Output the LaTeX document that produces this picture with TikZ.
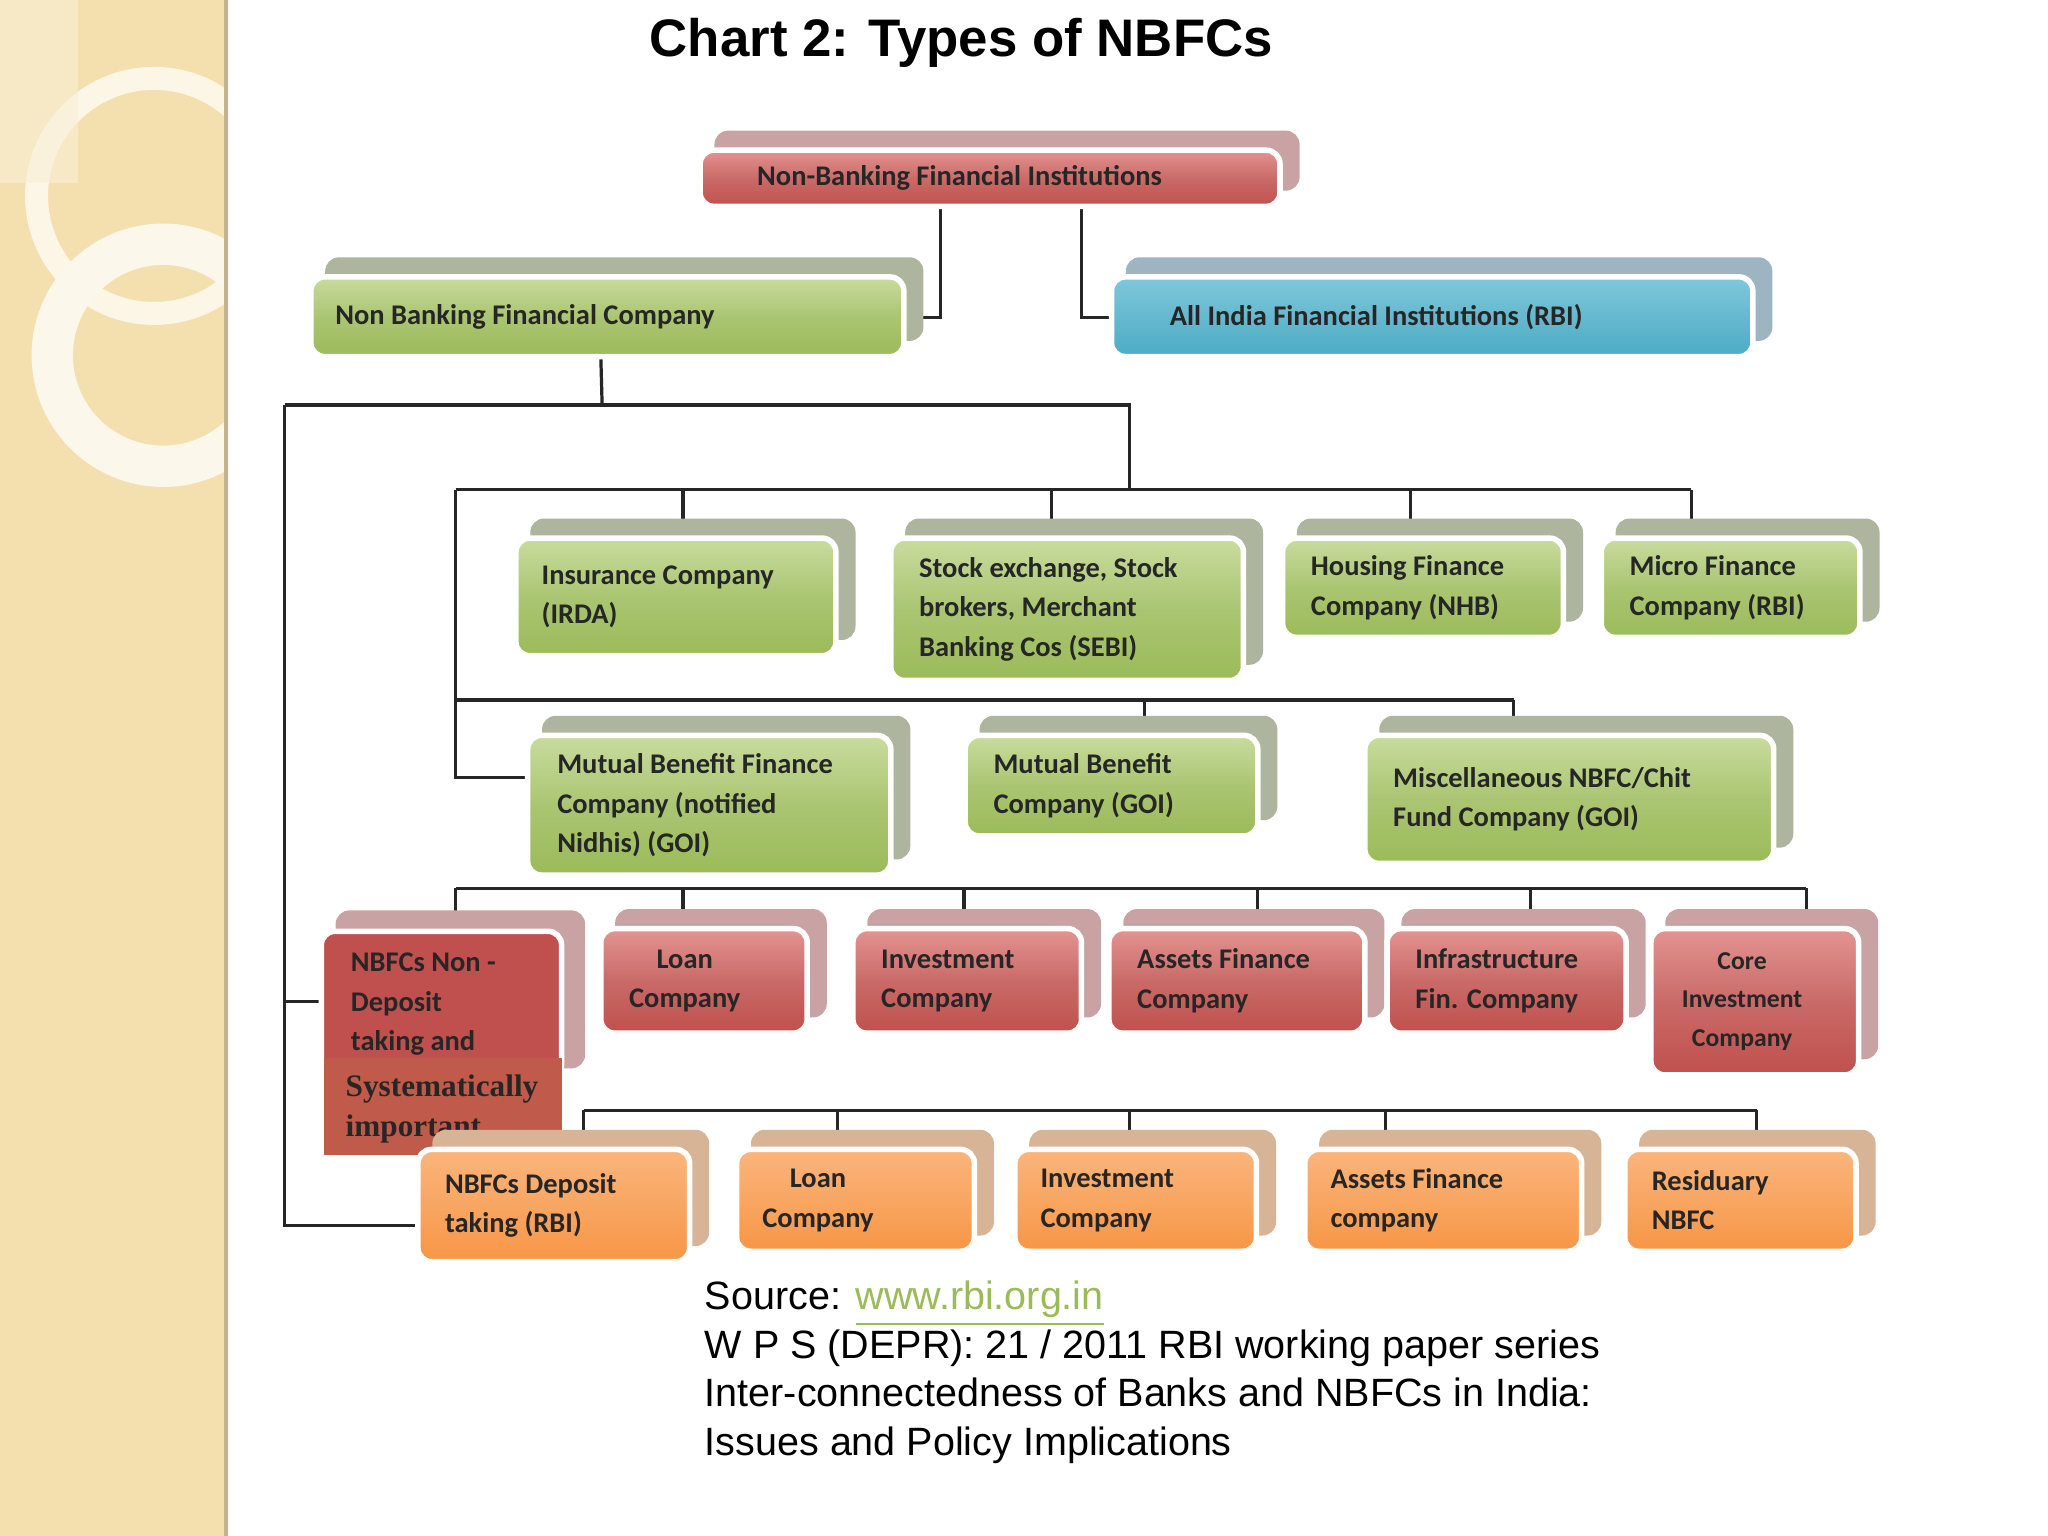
\documentclass[tikz,border=0pt]{standalone}
\usepackage{fontspec}
\setmainfont{Carlito}
\newfontfamily\arial{Liberation Sans}
\newfontfamily\serifx{Liberation Serif}
\usetikzlibrary{fit}
\definecolor{gC}{HTML}{9BBB59}\definecolor{gL}{HTML}{C9DC9E}\definecolor{gS}{HTML}{AEB59E}
\definecolor{rC}{HTML}{C0504D}\definecolor{rL}{HTML}{E39492}\definecolor{rS}{HTML}{C9A3A3}
\definecolor{oC}{HTML}{F79646}\definecolor{oL}{HTML}{FAB57C}\definecolor{oS}{HTML}{D8B496}
\definecolor{bC}{HTML}{4BACC6}\definecolor{bL}{HTML}{7FC8DC}\definecolor{bS}{HTML}{9DB5C0}
\definecolor{strip}{HTML}{F4E0AE}
\tikzset{txt/.style={font=\fontsize{6.2}{8.6}\selectfont\bfseries, text=black!85, inner sep=0pt},
 ln/.style={line width=0.7pt, black!85}}
\newcommand\mybox[9]{%
 \fill[#6S, rounded corners=3pt] (#2+11,#3-15) rectangle (#4+15,#5-12);
 \shade[top color=#6L, bottom color=#6C, middle color=#6C!85!white, draw=white, line width=1.2pt, rounded corners=3pt] (#2,#3) rectangle (#4,#5);
 \node[fit={(#2,#3)(#4,#5)}, inner sep=0pt] (#1) {};
 \node[txt, anchor=west, align=#8] (#1t) at (#7,{(#3+#5)/2}) {#9};}
\begin{document}
\begin{tikzpicture}[x=0.01cm,y=-0.01cm]
\useasboundingbox (0,0) rectangle (1568,1176);
\fill[white] (0,0) rectangle (1568,1176);
\begin{scope}
\clip (0,0) rectangle (173,1176);
\fill[strip] (0,0) rectangle (173,1176);
\draw[white!70!strip, line width=5pt] (118,150) circle (90);
\draw[white!75!strip, line width=9pt] (125,272) circle (85);
\fill[white!50!strip, opacity=.6] (0,0) rectangle (60,140);
\end{scope}
\draw[strip!80!black, line width=1pt] (173,0) -- (173,1176);
\node[font=\arial\bfseries\fontsize{11.5}{14}\selectfont] (title) at (736,33) {Chart 2: Types of NBFCs};
% connectors
\draw[ln] (720,158) -- (720,243) -- (692,243);
\draw[ln] (828,158) -- (828,243) -- (851,243);
\draw[ln] (460,273) -- (461,310);
\draw[ln] (218,310) -- (865,310) -- (865,375);
\draw[ln] (349,375) -- (1295,375);
\foreach \x in {523,805,1080,1295} \draw[ln] (\x,375) -- (\x,412);
\draw[ln] (349,375) -- (349,595) -- (405,595);
\draw[ln] (349,536) -- (1159,536);
\foreach \x in {876,1159} \draw[ln] (\x,536) -- (\x,563);
\draw[ln] (349,680) -- (1383,680);
\foreach \x in {349,523,738,963,1172,1383} \draw[ln] (\x,680) -- (\x,712);
\draw[ln] (218,310) -- (218,938) -- (320,938);
\draw[ln] (218,767) -- (246,767);
\draw[ln] (447,850) -- (1345,850);
\foreach \x in {447,641,865,1061,1345} \draw[ln] (\x,850) -- (\x,880);
% boxes
\mybox{nbfi}{536}{115}{980}{158}{r}{579}{left}{Non-Banking Financial Institutions}
\mybox{nbfc}{238}{212}{692}{273}{g}{256}{left}{Non Banking Financial Company}
\mybox{aifi}{851}{212}{1342}{273}{b}{895}{left}{All India Financial Institutions (RBI)}
\mybox{ins}{395}{412}{640}{502}{g}{414}{left}{Insurance Company\\(IRDA)}
\mybox{stk}{682}{412}{952}{521}{g}{703}{left}{Stock exchange, Stock\\brokers, Merchant\\Banking Cos (SEBI)}
\mybox{hfc}{982}{412}{1197}{488}{g}{1003}{left}{Housing Finance\\Company (NHB)}
\mybox{mfc}{1226}{412}{1424}{488}{g}{1247}{left}{Micro Finance\\Company (RBI)}
\mybox{mbf}{404}{563}{682}{670}{g}{426}{left}{Mutual Benefit Finance\\Company (notified\\Nidhis) (GOI)}
\mybox{mbc}{739}{563}{963}{640}{g}{760}{left}{Mutual Benefit\\Company (GOI)}
\mybox{misc}{1045}{563}{1358}{661}{g}{1066}{left}{Miscellaneous NBFC/Chit\\Fund Company (GOI)}
% NBFCs non-deposit
\fill[rS, rounded corners=3pt] (257,697) rectangle (448,818);
\shade[top color=rC, bottom color=rC, draw=white, line width=1.2pt, rounded corners=3pt] (246,713) rectangle (430,825);
\node[fit={(246,713)(430,825)}, inner sep=0pt] (nd) {};
\node[txt, anchor=north west, align=left] (ndt) at (268,729) {NBFCs Non -\\Deposit\\taking and};
\fill[rC!80!brown] (248,810) rectangle (430,884);
\node[txt, font=\serifx\bfseries\fontsize{6.8}{8.8}\selectfont, anchor=north west, align=left] (sys) at (264,822) {Systematically\\important};
\mybox{rl}{460}{711}{618}{791}{r}{481}{center}{Loan\\Company}
\mybox{ri}{653}{711}{828}{791}{r}{674}{left}{Investment\\Company}
\mybox{ra}{849}{711}{1045}{791}{r}{870}{left}{Assets Finance\\Company}
\mybox{rf}{1062}{711}{1245}{791}{r}{1083}{left}{Infrastructure\\Fin. Company}
\mybox{rc}{1264}{711}{1423}{823}{r}{1287}{center}{\fontsize{5.6}{7.8}\selectfont Core\\[-0.5pt]\fontsize{5.6}{7.8}\selectfont Investment\\\fontsize{5.6}{7.8}\selectfont Company}
\mybox{od}{320}{880}{528}{966}{o}{340}{left}{NBFCs Deposit\\taking (RBI)}
\mybox{ol}{564}{880}{746}{958}{o}{583}{center}{Loan\\Company}
\mybox{oi}{777}{880}{962}{958}{o}{796}{left}{Investment\\Company}
\mybox{oa}{999}{880}{1211}{958}{o}{1018}{left}{Assets Finance\\company}
\mybox{or}{1244}{880}{1421}{958}{o}{1264}{left}{Residuary\\NBFC}
\node[font=\arial\fontsize{8.6}{10.6}\selectfont, anchor=north west, align=left, inner sep=0pt] (src) at (539,980) {Source: \textcolor{gC}{\underline{www.rbi.org.in}}\\W P S (DEPR): 21 / 2011 RBI working paper series\\Inter-connectedness of Banks and NBFCs in India:\\Issues and Policy Implications};
\end{tikzpicture}
\end{document}
